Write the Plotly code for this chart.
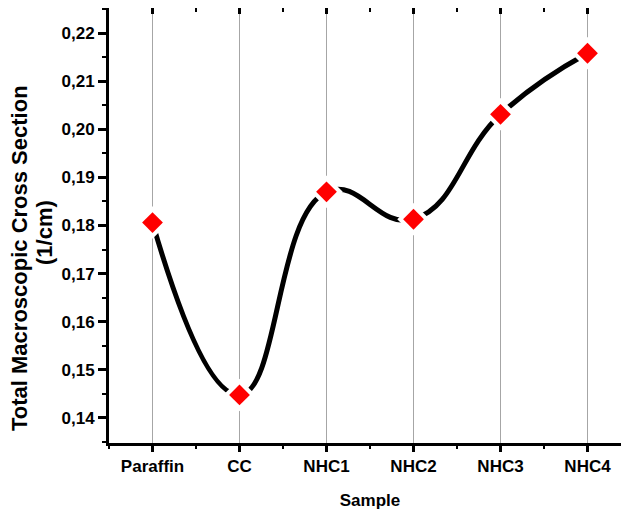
import plotly.graph_objects as go

categories = ["Paraffin", "CC", "NHC1", "NHC2", "NHC3", "NHC4"]
values = [0.1806, 0.1448, 0.1870, 0.1813, 0.2031, 0.2158]
y_ticks = [0.14, 0.15, 0.16, 0.17, 0.18, 0.19, 0.20, 0.21, 0.22]
y_tick_text = ["0,14", "0,15", "0,16", "0,17", "0,18", "0,19", "0,20", "0,21", "0,22"]
y_title_lines = ["Total Macroscopic Cross Section", "(1/cm)"]
x_title = "Sample"

xs = list(range(len(categories)))
fam = "Liberation Sans, Arial, sans-serif"
font = dict(family=fam, size=17, color="black")

fig = go.Figure()
fig.add_trace(go.Scatter(x=xs, y=values, mode="lines",
                         line=dict(color="black", width=5, shape="spline", smoothing=1.3),
                         hoverinfo="skip", showlegend=False))
fig.add_trace(go.Scatter(x=xs, y=values, mode="markers",
                         marker=dict(symbol="diamond", size=25, color="white"),
                         hoverinfo="skip", showlegend=False))
fig.add_trace(go.Scatter(x=xs, y=values, mode="markers",
                         marker=dict(symbol="diamond", size=16, color="#ff0000", line=dict(width=0)),
                         showlegend=False))
# mirrored axes (top / right) with inward ticks
fig.add_trace(go.Scatter(x=xs, y=values, xaxis="x2", yaxis="y2", mode="markers",
                         marker=dict(opacity=0), hoverinfo="skip", showlegend=False))

xr = [-0.5, 5.5]
yr = [0.1348, 0.2252]

fig.update_layout(
    width=623, height=516,
    margin=dict(l=101, r=0, t=0, b=81),
    paper_bgcolor="white", plot_bgcolor="white",
    font=font,
    xaxis=dict(range=xr, tickvals=xs, ticktext=["<b>%s</b>" % c for c in categories],
               showgrid=True, gridcolor="#a6a6a6", gridwidth=1,
               showline=True, linecolor="black", linewidth=3,
               ticks="outside", ticklen=6, tickwidth=3, tickcolor="black",
               minor=dict(dtick=0.5, tick0=0.5, ticks="outside", ticklen=3, tickwidth=2, tickcolor="black", showgrid=False),
               tickfont=dict(size=17, family=fam),
               title=dict(text="<b>%s</b>" % x_title, font=dict(size=17), standoff=19),
               automargin=False, zeroline=False, fixedrange=True),
    yaxis=dict(range=yr, tickvals=y_ticks, ticktext=["<b>%s</b>" % t for t in y_tick_text],
               showgrid=False,
               showline=True, linecolor="black", linewidth=3,
               ticks="outside", ticklen=8, tickwidth=3, tickcolor="black",
               minor=dict(dtick=0.005, tick0=0.135, ticks="outside", ticklen=4, tickwidth=2, tickcolor="black"),
               tickfont=dict(size=17, family=fam),
               automargin=False, zeroline=False, fixedrange=True),
    xaxis2=dict(range=xr, overlaying="x", side="top", tickvals=xs, showticklabels=False,
                showgrid=False, showline=True, linecolor="black", linewidth=3,
                ticks="inside", ticklen=6, tickwidth=3, tickcolor="black",
                minor=dict(dtick=0.5, tick0=0.5, ticks="inside", ticklen=4, tickwidth=2, tickcolor="black"),
                automargin=False, zeroline=False, fixedrange=True),
    yaxis2=dict(range=yr, overlaying="y", side="right", tickvals=y_ticks, showticklabels=False,
                showgrid=False, showline=False,
                ticks="inside", ticklen=6, tickwidth=3, tickcolor="black",
                minor=dict(dtick=0.005, tick0=0.135, ticks="inside", ticklen=3, tickwidth=1, tickcolor="#bbbbbb"),
                automargin=False, zeroline=False, fixedrange=True),
)

fig.add_annotation(text="<b>%s</b>" % y_title_lines[0], textangle=-90,
                   xref="paper", yref="paper", x=-0.1705, y=0.4253,
                   xanchor="center", yanchor="middle", showarrow=False,
                   font=dict(size=22, family=fam, color="black"))
fig.add_annotation(text="<b>%s</b>" % y_title_lines[1], textangle=-90,
                   xref="paper", yref="paper", x=-0.1226, y=0.4828,
                   xanchor="center", yanchor="middle", showarrow=False,
                   font=dict(size=22, family=fam, color="black"))

fig.write_html("out.html")
